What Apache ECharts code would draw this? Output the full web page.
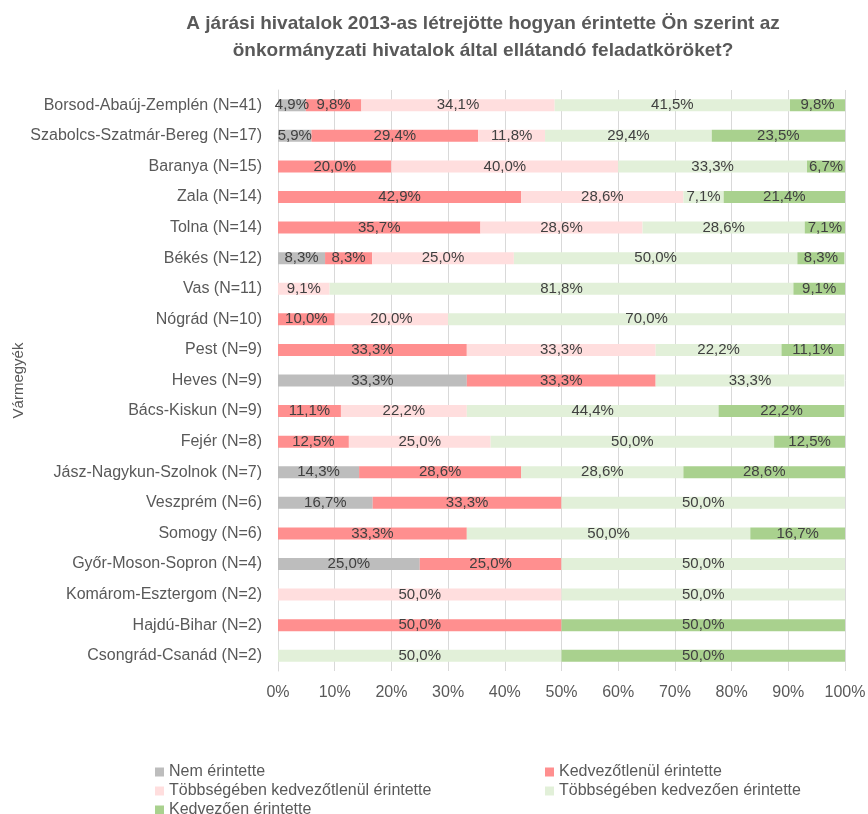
<!DOCTYPE html>
<html><head><meta charset="utf-8">
<script src="https://cdn.jsdelivr.net/npm/echarts@6/dist/echarts.min.js"></script>
<style>html,body{margin:0;padding:0;background:#fff}#c{width:868px;height:814px}</style>
</head><body><div id="c"></div>
<script>
const categories = ["Borsod-Abaúj-Zemplén (N=41)","Szabolcs-Szatmár-Bereg (N=17)","Baranya (N=15)","Zala (N=14)","Tolna (N=14)","Békés (N=12)","Vas (N=11)","Nógrád (N=10)","Pest (N=9)","Heves (N=9)","Bács-Kiskun (N=9)","Fejér (N=8)","Jász-Nagykun-Szolnok (N=7)","Veszprém (N=6)","Somogy (N=6)","Győr-Moson-Sopron (N=4)","Komárom-Esztergom (N=2)","Hajdú-Bihar (N=2)","Csongrád-Csanád (N=2)"];
const seriesNames = ["Nem érintette","Kedvezőtlenül érintette","Többségében kedvezőtlenül érintette","Többségében kedvezően érintette","Kedvezően érintette"];
const nemErintette = [4.9,5.9,null,null,null,8.3,null,null,null,33.3,null,null,14.3,16.7,null,25.0,null,null,null];
const kedvezotlenul = [9.8,29.4,20.0,42.9,35.7,8.3,null,10.0,33.3,33.3,11.1,12.5,28.6,33.3,33.3,25.0,null,50.0,null];
const tobbsegKedvezotlen = [34.1,11.8,40.0,28.6,28.6,25.0,9.1,20.0,33.3,null,22.2,25.0,null,null,null,null,50.0,null,null];
const tobbsegKedvezo = [41.5,29.4,33.3,7.1,28.6,50.0,81.8,70.0,22.2,33.3,44.4,50.0,28.6,50.0,50.0,50.0,50.0,null,50.0];
const kedvezoen = [9.8,23.5,6.7,21.4,7.1,8.3,9.1,null,11.1,null,22.2,12.5,28.6,null,16.7,null,null,50.0,50.0];
const xTicks = ["0%","10%","20%","30%","40%","50%","60%","70%","80%","90%","100%"];

const values = [nemErintette,kedvezotlenul,tobbsegKedvezotlen,tobbsegKedvezo,kedvezoen];
const colors = ["#BDBDBD","#FF8F8F","#FFDEDE","#E2F0D9","#A9D18E"];
const font = "Liberation Sans";
const chart = echarts.init(document.getElementById('c'));
const legendPos = [[150,759],[540,759],[150,778],[540,778],[150,797]];
chart.setOption({
  animation:false,
  title:{text:"A járási hivatalok 2013-as létrejötte hogyan érintette Ön szerint az\nönkormányzati hivatalok által ellátandó feladatköröket?",
    left:478, top:5, textAlign:'center',
    textStyle:{fontFamily:font,fontSize:19,fontWeight:'bold',color:'#595959',lineHeight:27}},
  legend: seriesNames.map((n,i)=>({data:[n],left:legendPos[i][0],top:legendPos[i][1],icon:'rect',itemWidth:9,itemHeight:9,itemGap:5,
    textStyle:{fontFamily:font,fontSize:16,color:'#595959'}})),
  grid:{left:278,right:23,top:90,bottom:143,outerBoundsMode:'none',containLabel:false},
  xAxis:{type:'value',min:0,max:100,interval:10,
    axisLabel:{formatter:(v)=>xTicks[Math.round(v/10)],fontFamily:font,fontSize:16,color:'#595959',margin:14},
    splitLine:{show:true,lineStyle:{color:'#D9D9D9',width:1}},
    axisLine:{show:false},axisTick:{show:false}},
  yAxis:{type:'category',data:categories,inverse:true,
    name:'Vármegyék',nameLocation:'middle',nameRotate:90,nameGap:252,nameMoveOverlap:false,
    nameTextStyle:{fontFamily:font,fontSize:15,color:'#595959'},
    axisLabel:{fontFamily:font,fontSize:16,color:'#595959',margin:16},
    axisLine:{show:true,lineStyle:{color:'#D9D9D9'}},axisTick:{show:false}},
  series: seriesNames.map((n,i)=>({name:n,type:'bar',stack:'t',data:values[i],barWidth:12,
    itemStyle:{color:colors[i]},
    label:{show:true,position:'inside',fontFamily:font,fontSize:15,color:'#404040',
      formatter:(p)=>p.value==null?'':p.value.toFixed(1).replace('.',',')+'%'}}))
});
</script></body></html>
